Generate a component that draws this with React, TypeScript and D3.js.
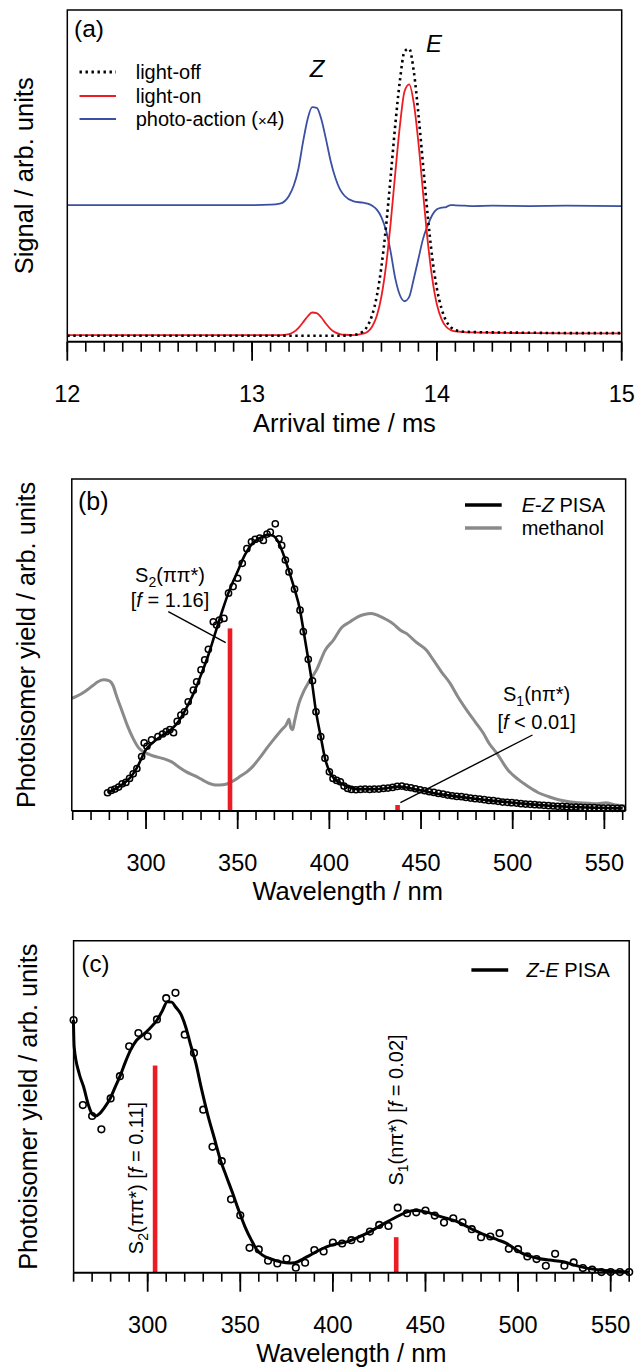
import React from 'react';
import * as d3 from 'd3';

const FONT = "'Liberation Sans', Arial, Helvetica, sans-serif";

// ---------- Panel (a): arrival time distributions ----------
const timeA = [12.0, 12.5, 13.0, 13.1, 13.15, 13.2, 13.225, 13.25, 13.275, 13.3, 13.325, 13.35, 13.375, 13.4, 13.425, 13.45, 13.475, 13.5, 13.55, 13.6, 13.625, 13.65, 13.675, 13.7, 13.725, 13.75, 13.775, 13.8, 13.825, 13.85, 13.875, 13.9, 13.925, 13.95, 13.975, 14.0, 14.025, 14.05, 14.075, 14.1, 14.15, 14.2, 14.3, 14.5, 14.7, 15.0];
const lightOff = [0.018, 0.018, 0.018, 0.018, 0.018, 0.018, 0.018, 0.018, 0.018, 0.018, 0.018, 0.018, 0.018, 0.018, 0.018, 0.018, 0.018, 0.018, 0.020, 0.031, 0.048, 0.081, 0.138, 0.227, 0.349, 0.499, 0.655, 0.788, 0.875, 0.883, 0.815, 0.686, 0.534, 0.382, 0.253, 0.160, 0.100, 0.063, 0.044, 0.035, 0.030, 0.029, 0.028, 0.027, 0.026, 0.026];
const lightOn = [0.020, 0.020, 0.020, 0.020, 0.020, 0.023, 0.029, 0.041, 0.058, 0.076, 0.088, 0.086, 0.073, 0.054, 0.038, 0.028, 0.023, 0.021, 0.020, 0.024, 0.030, 0.046, 0.078, 0.137, 0.230, 0.359, 0.510, 0.652, 0.755, 0.776, 0.719, 0.600, 0.450, 0.305, 0.190, 0.112, 0.068, 0.045, 0.035, 0.031, 0.029, 0.028, 0.027, 0.026, 0.025, 0.025];
const photoAction = [0.412, 0.412, 0.412, 0.413, 0.416, 0.440, 0.470, 0.520, 0.600, 0.670, 0.707, 0.705, 0.670, 0.610, 0.545, 0.495, 0.460, 0.440, 0.423, 0.419, 0.416, 0.410, 0.398, 0.375, 0.335, 0.270, 0.190, 0.140, 0.122, 0.135, 0.190, 0.250, 0.310, 0.350, 0.382, 0.399, 0.404, 0.406, 0.412, 0.411, 0.410, 0.409, 0.410, 0.409, 0.410, 0.409];
const ticksA = [12, 13, 14, 15];

// ---------- Panel (b): E-Z PISA ----------
const ezWl = [279, 281, 283, 285, 287, 289, 291, 293, 295, 297.6, 299, 300.5, 303, 306.5, 309, 311, 313, 315, 317, 319, 321, 323, 325.8, 327.6, 330, 332, 334, 336.7, 338.5, 340, 342.5, 345, 347.5, 350, 352.5, 355, 357.5, 359.5, 362, 364, 366, 367.8, 370.5, 372.5, 374, 376, 378, 381, 384, 385.8, 388.5, 390.8, 392.7, 395.3, 397.6, 400, 402, 404, 406, 408, 410, 412, 414.5, 417, 419.5, 422, 424.5, 427, 429.5, 432, 434.5, 437, 439.5, 442, 444.5, 447, 449.5, 452, 454.5, 457, 459.5, 462, 464.5, 467, 469.5, 472, 474.5, 477, 479.5, 482, 484.5, 487, 489.5, 492, 494.5, 497, 499.5, 502, 504.5, 507, 509.5, 512, 514.5, 517, 519.5, 522, 524.5, 527, 529.5, 532, 534.5, 537, 539.5, 542, 544.5, 547, 549.5, 552, 554.5, 557, 559.5];
const ezVal = [0.055, 0.062, 0.066, 0.072, 0.082, 0.086, 0.098, 0.112, 0.128, 0.164, 0.205, 0.195, 0.214, 0.224, 0.232, 0.239, 0.245, 0.236, 0.270, 0.289, 0.299, 0.329, 0.364, 0.389, 0.425, 0.455, 0.487, 0.570, 0.560, 0.575, 0.580, 0.656, 0.676, 0.701, 0.746, 0.790, 0.811, 0.818, 0.822, 0.815, 0.834, 0.840, 0.865, 0.820, 0.800, 0.756, 0.720, 0.668, 0.605, 0.540, 0.457, 0.392, 0.299, 0.224, 0.159, 0.118, 0.098, 0.092, 0.088, 0.075, 0.068, 0.065, 0.064, 0.065, 0.066, 0.065, 0.066, 0.066, 0.068, 0.069, 0.071, 0.074, 0.075, 0.072, 0.070, 0.067, 0.064, 0.061, 0.058, 0.056, 0.053, 0.051, 0.048, 0.046, 0.044, 0.043, 0.041, 0.039, 0.037, 0.036, 0.034, 0.032, 0.031, 0.029, 0.027, 0.026, 0.025, 0.024, 0.022, 0.021, 0.020, 0.019, 0.018, 0.017, 0.016, 0.015, 0.014, 0.014, 0.013, 0.012, 0.012, 0.011, 0.010, 0.010, 0.010, 0.009, 0.009, 0.009, 0.008, 0.008, 0.008];
const ezFitWl = [279, 283, 287, 291, 295, 300, 305, 310, 314, 318, 322, 326, 330, 334, 338, 342, 346, 350, 354, 358, 362, 366, 369, 372, 375, 378, 381, 384, 386, 388.5, 390.4, 392.7, 395.3, 397.6, 400, 402.5, 406, 410, 415, 420, 425, 430, 435, 438, 442, 448, 455, 465, 475, 487, 500, 510, 520, 530, 545, 560];
const ezFitVal = [0.055, 0.066, 0.080, 0.098, 0.130, 0.185, 0.212, 0.232, 0.247, 0.272, 0.310, 0.355, 0.410, 0.470, 0.540, 0.610, 0.672, 0.722, 0.772, 0.806, 0.822, 0.832, 0.830, 0.812, 0.772, 0.722, 0.668, 0.605, 0.540, 0.457, 0.392, 0.300, 0.224, 0.159, 0.120, 0.098, 0.085, 0.073, 0.066, 0.066, 0.066, 0.068, 0.072, 0.074, 0.071, 0.064, 0.056, 0.047, 0.040, 0.032, 0.025, 0.020, 0.016, 0.013, 0.010, 0.008];
const methWl = [259.5, 262, 265, 268, 271, 274, 277, 280, 282, 284, 287, 290, 293, 296, 299, 302, 305, 310, 314, 318, 322, 327, 331, 335, 338, 342, 345, 348, 351, 355, 358, 362, 366, 370, 374, 376.5, 378, 379, 380, 381, 383.4, 386, 389, 393, 397.8, 402.2, 406.6, 411.3, 415.5, 419, 423, 427, 431, 435, 438.6, 442, 447, 453, 456.7, 461, 465.8, 470, 474.9, 480, 484, 487, 491.3, 497.5, 503, 508.6, 514, 519.7, 525, 530.8, 536, 541.8, 546, 550.8, 555, 561.5];
const methVal = [0.339, 0.345, 0.354, 0.365, 0.378, 0.390, 0.395, 0.392, 0.378, 0.345, 0.300, 0.255, 0.218, 0.190, 0.177, 0.170, 0.164, 0.157, 0.148, 0.132, 0.118, 0.105, 0.093, 0.082, 0.078, 0.079, 0.083, 0.092, 0.103, 0.118, 0.133, 0.160, 0.190, 0.218, 0.245, 0.260, 0.276, 0.250, 0.245, 0.270, 0.324, 0.360, 0.390, 0.425, 0.485, 0.515, 0.552, 0.570, 0.585, 0.592, 0.595, 0.588, 0.577, 0.563, 0.545, 0.535, 0.510, 0.484, 0.455, 0.420, 0.385, 0.345, 0.304, 0.265, 0.234, 0.205, 0.174, 0.123, 0.095, 0.073, 0.055, 0.043, 0.034, 0.028, 0.025, 0.023, 0.022, 0.025, 0.020, 0.015];
const barsB = [{ wl: 345.8, f: 0.55 }, { wl: 437.2, f: 0.018 }];
const ticksB = [300, 350, 400, 450, 500, 550];

// ---------- Panel (c): Z-E PISA ----------
const zeWl = [260, 265, 270, 275, 280, 285, 290, 295, 300, 305, 310, 315, 320, 325, 330, 335, 340, 345, 350, 355, 360, 365, 370, 375, 380, 385, 390, 395, 400, 405, 410, 415, 420, 425, 430, 435, 440, 445, 450, 455, 460, 465, 470, 475, 480, 485, 490, 495, 500, 505, 510, 515, 520, 525, 530, 535, 540, 545, 550, 555, 560];
const zeVal = [0.761, 0.505, 0.472, 0.432, 0.525, 0.592, 0.682, 0.722, 0.712, 0.763, 0.827, 0.843, 0.717, 0.662, 0.491, 0.379, 0.336, 0.221, 0.173, 0.075, 0.070, 0.036, 0.028, 0.042, 0.015, 0.030, 0.068, 0.064, 0.091, 0.088, 0.098, 0.102, 0.124, 0.144, 0.141, 0.196, 0.179, 0.182, 0.187, 0.172, 0.151, 0.164, 0.152, 0.131, 0.107, 0.109, 0.119, 0.072, 0.071, 0.049, 0.041, 0.021, 0.057, 0.021, 0.031, 0.014, 0.009, 0.002, 0.002, 0.002, 0.002];
const zeFitWl = [259.9, 260.3, 263, 265.4, 268, 270, 272, 274.2, 277, 279.8, 282.5, 285.3, 288, 290.8, 294, 297.4, 301, 305.1, 308, 310.6, 313, 315, 318, 320.5, 323, 326, 329, 332.7, 336, 339.3, 342.5, 345.9, 349, 352.5, 356, 359.1, 362, 365.7, 370, 374.5, 378, 381.1, 384, 387.7, 392, 396.5, 402, 407.5, 413, 418.5, 424, 429.6, 435, 440.6, 445, 449.4, 454, 458.2, 462.5, 467.1, 471.5, 475.9, 480.3, 484.7, 489, 493.5, 498, 502.3, 506.7, 511.1, 517, 524.4, 531, 537.6, 544, 550.8, 560];
const zeFitVal = [0.761, 0.680, 0.600, 0.560, 0.505, 0.478, 0.472, 0.480, 0.500, 0.525, 0.560, 0.595, 0.635, 0.671, 0.700, 0.716, 0.735, 0.761, 0.790, 0.816, 0.815, 0.801, 0.778, 0.741, 0.690, 0.631, 0.555, 0.470, 0.405, 0.339, 0.290, 0.239, 0.190, 0.139, 0.098, 0.068, 0.053, 0.043, 0.035, 0.030, 0.029, 0.033, 0.042, 0.053, 0.066, 0.078, 0.087, 0.093, 0.105, 0.119, 0.136, 0.154, 0.170, 0.184, 0.187, 0.184, 0.177, 0.169, 0.162, 0.154, 0.142, 0.129, 0.118, 0.108, 0.099, 0.089, 0.073, 0.058, 0.049, 0.043, 0.038, 0.033, 0.022, 0.013, 0.008, 0.005, 0.002];
const barsC = [{ wl: 304, f: 0.624 }, { wl: 434.2, f: 0.107 }];
const ticksC = [300, 350, 400, 450, 500, 550];

const RED = '#ec1c24';
const BLUE = '#3b4fa3';
const GRAY = '#8a8a8a';

function pairs(xs: number[], ys: number[]) {
  return xs.map((x, i) => [x, ys[i]] as [number, number]);
}

function BottomAxis({ x, y0, majors, minors, labelY, majorLen, minorLen }: any) {
  return (
    <g>
      {minors.map((t: number) => (
        <line key={'m' + t} x1={x(t)} x2={x(t)} y1={y0} y2={y0 + minorLen} stroke="#000" strokeWidth={1.6} />
      ))}
      {majors.map((t: number) => (
        <line key={'M' + t} x1={x(t)} x2={x(t)} y1={y0} y2={y0 + majorLen} stroke="#000" strokeWidth={1.8} />
      ))}
      {majors.map((t: number) => (
        <text key={'L' + t} x={x(t)} y={labelY} textAnchor="middle" fontSize={23.5} fontFamily={FONT}>{t}</text>
      ))}
    </g>
  );
}

function Frame({ l, r, t, b }: any) {
  return (
    <g>
      <path d={`M${l},${b} L${l},${t} L${r},${t} L${r},${b}`} fill="none" stroke="#000" strokeWidth={1.5} />
      <line x1={l} x2={r} y1={b} y2={b} stroke="#000" strokeWidth={2} />
    </g>
  );
}

function PanelA() {
  const x = d3.scaleLinear().domain([12, 15]).range([67.3, 621.7]);
  const y = d3.scaleLinear().domain([0, 1]).range([341.7, 10]);
  const line = d3.line<[number, number]>().x(d => x(d[0])).y(d => y(d[1])).curve(d3.curveMonotoneX);
  const minors = x.ticks(30);
  return (
    <g>
      <path d={line(pairs(timeA, photoAction)) || ''} fill="none" stroke={BLUE} strokeWidth={1.8} />
      <path d={line(pairs(timeA, lightOn)) || ''} fill="none" stroke={RED} strokeWidth={1.8} />
      <path d={line(pairs(timeA, lightOff)) || ''} fill="none" stroke="#000" strokeWidth={2.6} strokeDasharray="2.4,3.6" />
      <Frame l={x(12)} r={x(15)} t={y(1)} b={y(0)} />
      <BottomAxis x={x} y0={y(0)} majors={ticksA} minors={minors} labelY={402} majorLen={19} minorLen={10} />
      <text x={x(13.5)} y={431.7} textAnchor="middle" fontSize={25.5} fontFamily={FONT}>Arrival time / ms</text>
      <text transform={`translate(33,${(y(0) + y(1)) / 2}) rotate(-90)`} textAnchor="middle" fontSize={25.5} fontFamily={FONT}>Signal / arb. units</text>
      <text x={74} y={37} fontSize={24.5} fontFamily={FONT}>(a)</text>
      <text x={317} y={76.7} textAnchor="middle" fontSize={24} fontStyle="italic" fontFamily={FONT}>Z</text>
      <text x={434} y={51.7} textAnchor="middle" fontSize={24} fontStyle="italic" fontFamily={FONT}>E</text>
      <g fontFamily={FONT} fontSize={20}>
        <line x1={79.5} x2={116} y1={72} y2={72} stroke="#000" strokeWidth={2.8} strokeDasharray="2.4,3.6" />
        <text x={135.7} y={79}>light-off</text>
        <line x1={79.5} x2={116} y1={96} y2={96} stroke={RED} strokeWidth={1.8} />
        <text x={135.7} y={103}>light-on</text>
        <line x1={79.5} x2={116} y1={119} y2={119} stroke={BLUE} strokeWidth={1.8} />
        <text x={135.7} y={126}>photo-action (<tspan fontSize={15}>×</tspan>4)</text>
      </g>
    </g>
  );
}

function PanelB() {
  const x = d3.scaleLinear().domain([260, 560]).range([72.7, 622.7]);
  const y = d3.scaleLinear().domain([0, 1]).range([811, 479]);
  const line = d3.line<[number, number]>().x(d => x(d[0])).y(d => y(d[1])).curve(d3.curveMonotoneX);
  const minors = x.ticks(30);
  return (
    <g>
      <path d={line(pairs(methWl, methVal)) || ''} fill="none" stroke={GRAY} strokeWidth={3} />
      {barsB.map((b, i) => (
        <rect key={i} x={x(b.wl) - 2.3} width={4.6} y={y(b.f)} height={y(0) - y(b.f)} fill={RED} />
      ))}
      <path d={line(pairs(ezFitWl, ezFitVal)) || ''} fill="none" stroke="#000" strokeWidth={2.6} />
      {ezWl.map((w, i) => (
        <circle key={i} cx={x(w)} cy={y(ezVal[i])} r={3.1} fill="none" stroke="#000" strokeWidth={1.5} />
      ))}
      <Frame l={x(259.5)} r={x(561.6)} t={y(1)} b={y(0)} />
      <BottomAxis x={x} y0={y(0)} majors={ticksB} minors={minors} labelY={871} majorLen={18} minorLen={9} />
      <text x={x(410)} y={900} textAnchor="middle" fontSize={25.5} fontFamily={FONT}>Wavelength / nm</text>
      <text transform={`translate(35,${(y(0) + y(1)) / 2}) rotate(-90)`} textAnchor="middle" fontSize={25.3} fontFamily={FONT}>Photoisomer yield / arb. units</text>
      <text x={78} y={510} fontSize={25} fontFamily={FONT}>(b)</text>
      <g fontFamily={FONT} fontSize={20}>
        <line x1={465} x2={501.7} y1={505} y2={505} stroke="#000" strokeWidth={3.6} />
        <text x={521.7} y={512}><tspan fontStyle="italic">E</tspan>-<tspan fontStyle="italic">Z</tspan> PISA</text>
        <line x1={465} x2={501.7} y1={528} y2={528} stroke={GRAY} strokeWidth={3.6} />
        <text x={521.7} y={535}>methanol</text>
        <text x={170} y={581.7} textAnchor="middle">S<tspan fontSize={14} dy={5}>2</tspan><tspan dy={-5}>(ππ*)</tspan></text>
        <text x={170} y={606.7} textAnchor="middle">[<tspan fontStyle="italic">f</tspan> = 1.16]</text>
        <line x1={168.3} y1={611.7} x2={225.7} y2={642.7} stroke="#000" strokeWidth={1.4} />
        <text x={536.6} y={701} textAnchor="middle">S<tspan fontSize={14} dy={5}>1</tspan><tspan dy={-5}>(nπ*)</tspan></text>
        <text x={536.6} y={729} textAnchor="middle">[<tspan fontStyle="italic">f</tspan> &lt; 0.01]</text>
        <line x1={532.5} y1={735} x2={400.4} y2={802.7} stroke="#000" strokeWidth={1.4} />
      </g>
    </g>
  );
}

function PanelC() {
  const x = d3.scaleLinear().domain([260, 560]).range([73.6, 629.2]);
  const y = d3.scaleLinear().domain([0, 1]).range([1272.7, 940.7]);
  const line = d3.line<[number, number]>().x(d => x(d[0])).y(d => y(d[1])).curve(d3.curveMonotoneX);
  const minors = x.ticks(30);
  return (
    <g>
      {barsC.map((b, i) => (
        <rect key={i} x={x(b.wl) - 2.3} width={4.6} y={y(b.f)} height={y(0) - y(b.f)} fill={RED} />
      ))}
      <path d={line(pairs(zeFitWl, zeFitVal)) || ''} fill="none" stroke="#000" strokeWidth={3} />
      {zeWl.map((w, i) => (
        <circle key={i} cx={x(w)} cy={y(zeVal[i])} r={3.3} fill="none" stroke="#000" strokeWidth={1.6} />
      ))}
      <Frame l={x(260)} r={x(560)} t={y(1)} b={y(0)} />
      <BottomAxis x={x} y0={y(0)} majors={ticksC} minors={minors} labelY={1333} majorLen={19} minorLen={9} />
      <text x={x(410)} y={1362} textAnchor="middle" fontSize={25.5} fontFamily={FONT}>Wavelength / nm</text>
      <text transform={`translate(37,${(y(0) + y(1)) / 2}) rotate(-90)`} textAnchor="middle" fontSize={25.3} fontFamily={FONT}>Photoisomer yield / arb. units</text>
      <text x={81.6} y={972} fontSize={24} fontFamily={FONT}>(c)</text>
      <g fontFamily={FONT} fontSize={20}>
        <line x1={471.4} x2={508.2} y1={970} y2={970} stroke="#000" strokeWidth={3.6} />
        <text x={526.5} y={977}><tspan fontStyle="italic">Z</tspan>-<tspan fontStyle="italic">E</tspan> PISA</text>
        <text transform="translate(142.5,1178) rotate(-90)" textAnchor="middle">S<tspan fontSize={14} dy={5}>2</tspan><tspan dy={-5}>(ππ*) [</tspan><tspan fontStyle="italic">f</tspan> = 0.11]</text>
        <text transform="translate(403,1110) rotate(-90)" textAnchor="middle">S<tspan fontSize={14} dy={5}>1</tspan><tspan dy={-5}>(nπ*) [</tspan><tspan fontStyle="italic">f</tspan> = 0.02]</text>
      </g>
    </g>
  );
}

export default function App() {
  return (
    <svg width={638} height={1367} viewBox="0 0 638 1367" style={{ position: 'absolute', left: 0, top: 0, background: '#fff' }}>
      <rect x={0} y={0} width={638} height={1367} fill="#fff" />
      <PanelA />
      <PanelB />
      <PanelC />
    </svg>
  );
}
